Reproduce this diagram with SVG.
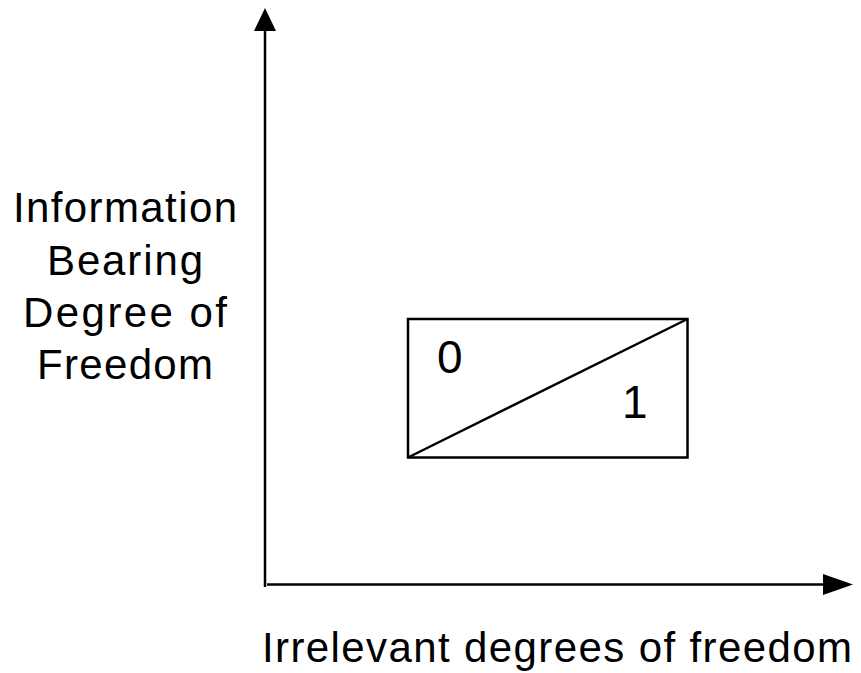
<svg xmlns="http://www.w3.org/2000/svg" width="861" height="673" viewBox="0 0 861 673">
<style>
.ax{stroke:#000;stroke-width:2.5;fill:none}
.hd{fill:#000;stroke:none}
.lbl{font-family:"Liberation Sans",Arial,sans-serif;font-size:42px;fill:#000}
.dig{font-family:"Liberation Sans",Arial,sans-serif;font-size:46px;fill:#000}
.box{stroke:#000;stroke-width:2.5;fill:none}
</style>
<rect width="861" height="673" fill="#fff"/>
<g id="connectors">
<line class="ax" x1="265" y1="28" x2="265" y2="587"/>
<polygon class="hd" points="265,8 254,31 276,31"/>
<line class="ax" x1="267" y1="584.5" x2="826" y2="584.5"/>
<polygon class="hd" points="853,584.5 823,574 823,595"/>
</g>
<g id="y-label">
<text class="lbl" text-anchor="middle" x="125" y="222" textLength="224" lengthAdjust="spacing">Information</text>
<text class="lbl" text-anchor="middle" x="125" y="275" textLength="156" lengthAdjust="spacing">Bearing</text>
<text class="lbl" text-anchor="middle" x="125" y="327" textLength="204" lengthAdjust="spacing">Degree of</text>
<text class="lbl" text-anchor="middle" x="125" y="379" textLength="176" lengthAdjust="spacing">Freedom</text>
</g>
<g id="x-label">
<text class="lbl" x="262" y="662" textLength="590" lengthAdjust="spacing">Irrelevant degrees of freedom</text>
</g>
<g id="box">
<rect class="box" x="408" y="319" width="279.5" height="138.5"/>
<line class="box" x1="408" y1="457.5" x2="687.5" y2="319"/>
<text class="dig" x="437" y="373">0</text>
<text class="dig" x="622" y="418">1</text>
</g>
</svg>
